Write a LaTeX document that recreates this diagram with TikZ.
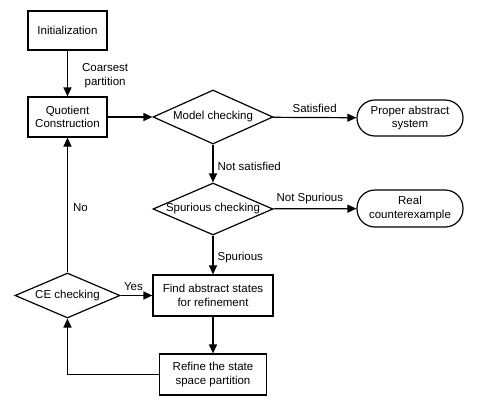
\documentclass[tikz,border=0pt]{standalone}
\usepackage{fontspec}
\setmainfont{Liberation Sans}
\usetikzlibrary{shapes.geometric,arrows.meta}
\begin{document}
\begin{tikzpicture}[x=1pt,y=-1pt,
  every node/.style={font=\fontsize{11.5}{13.5}\selectfont, align=center},
  box/.style={draw, line width=1.2pt, rectangle, inner sep=0pt},
  dia/.style={draw, line width=1.2pt, diamond, inner sep=0pt},
  term/.style={draw, line width=1.2pt, rectangle, rounded corners=18pt, inner sep=0pt},
  conn/.style={line width=1.2pt, -{Triangle[length=9pt,width=8pt]}},
  lab/.style={inner sep=2pt}]
\useasboundingbox (0,0) rectangle (477,408);
\node[box, minimum width=79pt, minimum height=39pt] (init) at (67.5,30.5) {Initialization};
\node[box, minimum width=79pt, minimum height=40pt] (quot) at (67.5,117) {Quotient\\Construction};
\node[dia, aspect=2.22, minimum width=120pt, minimum height=54pt] (mc) at (213,117) {Model checking};
\node[term, minimum width=106pt, minimum height=36pt] (pas) at (410,118) {Proper abstract\\system};
\node[dia, aspect=2.3, minimum width=120pt, minimum height=52pt] (sc) at (213,209) {Spurious checking};
\node[term, minimum width=106pt, minimum height=37pt] (rc) at (410,208.5) {Real\\counterexample};
\node[box, minimum width=120pt, minimum height=41pt] (find) at (213,295.5) {Find abstract states\\for refinement};
\node[box, minimum width=107pt, minimum height=41pt] (ref) at (213,374.5) {Refine the state\\space partition};
\node[dia, aspect=2.33, minimum width=105pt, minimum height=45pt] (ce) at (67.5,295.5) {CE checking};

\draw[conn] (init) -- node[lab, anchor=west, xshift=12pt, yshift=-2pt] (l1) {Coarsest\\partition} (quot);
\draw[conn] (quot) -- (mc);
\draw[conn] (mc) -- node[lab, anchor=south, yshift=2pt] (l2) {Satisfied} (pas);
\draw[conn] (mc) -- node[lab, anchor=west, xshift=2pt, yshift=-3pt] (l3) {Not satisfied} (sc);
\draw[conn] (sc) -- node[lab, anchor=south, yshift=2pt, xshift=-5pt] (l4) {Not Spurious} (rc);
\draw[conn] (sc) -- node[lab, anchor=west, xshift=2pt, yshift=-3pt] (l5) {Spurious} (find);
\draw[conn] (find) -- (ref);
\draw[conn] (ref.west) -| (ce.south);
\draw[conn] (ce) -- node[lab, anchor=south, yshift=2pt, xshift=-3pt] (l6) {Yes} (find);
\draw[conn] (ce) -- node[lab, anchor=west, xshift=3pt, yshift=-3pt] (l7) {No} (quot);
\end{tikzpicture}
\end{document}
